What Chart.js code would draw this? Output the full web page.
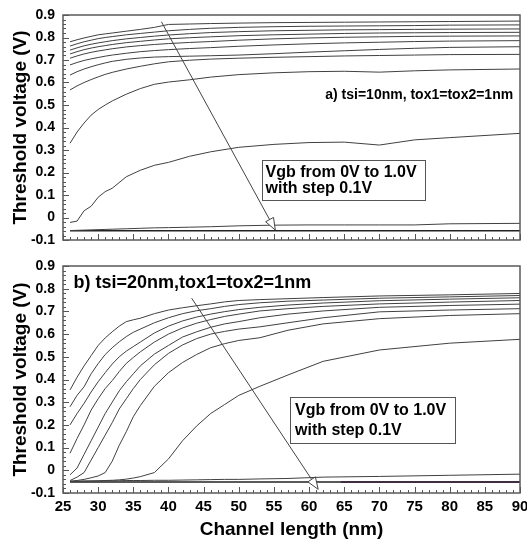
<!DOCTYPE html>
<html lang="en">
<head>
<meta charset="UTF-8">
<title>Threshold voltage vs channel length</title>
<script src="https://cdn.jsdelivr.net/npm/chart.js"></script>
<style>
    body { margin: 0; background: #fff; }
    .panel { position: absolute; left: 0; width: 527px; }
    #wrapA { top: 0; height: 250px; }
    #wrapB { top: 250px; height: 294px; }
</style>
</head>
<body>
<div class="panel" id="wrapA"><canvas id="chartA"></canvas></div>
<div class="panel" id="wrapB"><canvas id="chartB"></canvas></div>
<script>
// ---- panel a) tsi=10nm : channel length (nm) and Vt (V) per Vgb curve
const xA = [26,27,28,29,30,31,32,34,36,38,40,43,46,50,55,60,65,70,75,80,90];
const a1 = [0.781,0.790,0.798,0.805,0.812,0.816,0.820,0.828,0.836,0.845,0.858,0.860,0.862,0.864,0.866,0.867,0.868,0.869,0.870,0.871,0.873];
const a2 = [0.762,0.772,0.781,0.788,0.795,0.800,0.804,0.812,0.818,0.824,0.830,0.836,0.841,0.845,0.848,0.850,0.851,0.852,0.853,0.855,0.856];
const a3 = [0.744,0.754,0.763,0.770,0.776,0.781,0.786,0.794,0.800,0.806,0.811,0.817,0.822,0.826,0.830,0.832,0.834,0.835,0.836,0.837,0.838];
const a4 = [0.727,0.737,0.746,0.753,0.759,0.764,0.769,0.777,0.783,0.789,0.794,0.799,0.803,0.808,0.812,0.815,0.818,0.820,0.821,0.822,0.823];
const a5 = [0.708,0.718,0.727,0.734,0.740,0.745,0.750,0.758,0.764,0.769,0.773,0.778,0.782,0.788,0.794,0.798,0.801,0.803,0.805,0.806,0.807];
const a6 = [0.678,0.689,0.698,0.705,0.711,0.717,0.722,0.730,0.737,0.742,0.746,0.751,0.755,0.761,0.767,0.772,0.776,0.779,0.782,0.784,0.786];
const a7 = [0.633,0.648,0.660,0.670,0.679,0.687,0.694,0.703,0.709,0.713,0.715,0.717,0.719,0.722,0.728,0.735,0.741,0.747,0.752,0.756,0.759];
const a8 = [0.567,0.585,0.600,0.613,0.625,0.636,0.645,0.660,0.672,0.683,0.692,0.699,0.704,0.708,0.712,0.715,0.718,0.720,0.722,0.724,0.725];
const a9 = [0.330,0.380,0.420,0.455,0.480,0.500,0.518,0.548,0.573,0.592,0.602,0.612,0.624,0.635,0.643,0.648,0.650,0.646,0.652,0.656,0.660];
const a10 = [-0.022,-0.016,0.030,0.050,0.090,0.115,0.130,0.181,0.210,0.232,0.245,0.272,0.292,0.312,0.325,0.333,0.335,0.322,0.345,0.355,0.374];
const a11 = [-0.058,-0.057,-0.056,-0.055,-0.054,-0.053,-0.052,-0.050,-0.048,-0.046,-0.045,-0.043,-0.041,-0.037,-0.034,-0.033,-0.033,-0.033,-0.033,-0.028,-0.026];
const a12 = [-0.059,-0.059,-0.059,-0.059,-0.059,-0.059,-0.059,-0.059,-0.059,-0.059,-0.059,-0.059,-0.059,-0.059,-0.059,-0.059,-0.059,-0.059,-0.059,-0.059,-0.059];

// ---- panel b) tsi=20nm
const xB = [26,27,28,29,30,31,32,33,34,35,36,38,40,42,44,46,48,50,53,57,62,70,80,90];
const b1 = [0.354,0.410,0.460,0.505,0.550,0.583,0.610,0.635,0.655,0.663,0.670,0.690,0.706,0.716,0.725,0.733,0.742,0.748,0.752,0.756,0.761,0.768,0.773,0.779];
const b2 = [0.280,0.330,0.368,0.425,0.470,0.510,0.540,0.566,0.589,0.608,0.622,0.650,0.672,0.690,0.703,0.712,0.722,0.730,0.738,0.745,0.750,0.758,0.764,0.770];
const b3 = [0.200,0.250,0.295,0.345,0.390,0.430,0.468,0.500,0.525,0.545,0.565,0.605,0.635,0.658,0.675,0.688,0.699,0.708,0.718,0.728,0.737,0.747,0.754,0.760];
const b4 = [0.075,0.140,0.200,0.265,0.315,0.360,0.395,0.435,0.471,0.497,0.522,0.565,0.600,0.627,0.648,0.664,0.678,0.688,0.702,0.712,0.722,0.733,0.741,0.748];
const b5 = [-0.020,0.010,0.070,0.130,0.190,0.250,0.300,0.350,0.390,0.425,0.460,0.512,0.550,0.587,0.610,0.630,0.645,0.655,0.672,0.688,0.702,0.718,0.726,0.732];
const b6 = [-0.045,-0.030,-0.010,0.045,0.100,0.155,0.210,0.270,0.315,0.360,0.400,0.465,0.515,0.552,0.580,0.600,0.612,0.622,0.632,0.650,0.672,0.698,0.706,0.712];
const b7 = [-0.048,-0.045,-0.040,-0.033,-0.025,-0.010,0.040,0.110,0.170,0.236,0.285,0.370,0.430,0.475,0.510,0.540,0.558,0.572,0.584,0.617,0.645,0.668,0.682,0.690];
const b8 = [-0.050,-0.049,-0.048,-0.047,-0.046,-0.045,-0.044,-0.042,-0.039,-0.034,-0.028,-0.010,0.050,0.130,0.195,0.250,0.290,0.330,0.370,0.420,0.480,0.530,0.560,0.577];
const b9 = [-0.048,-0.048,-0.047,-0.047,-0.047,-0.046,-0.046,-0.046,-0.045,-0.045,-0.045,-0.044,-0.044,-0.043,-0.042,-0.041,-0.040,-0.040,-0.038,-0.036,-0.030,-0.027,-0.022,-0.017];
const b10 = [-0.052,-0.052,-0.052,-0.052,-0.052,-0.052,-0.052,-0.052,-0.052,-0.052,-0.052,-0.052,-0.052,-0.052,-0.052,-0.052,-0.052,-0.052,-0.052,-0.052,-0.052,-0.052,-0.052,-0.052];
const xPurple = [64.5, 90];
const bPurple = [-0.052, -0.052];

const FONT = "Arial, 'Liberation Sans', sans-serif";

function pts(xs, ys) {
    return xs.map((x, i) => ({ x: x, y: ys[i] }));
}
function lineSet(xs, ys, color, width) {
    return {
        data: pts(xs, ys),
        borderColor: color || '#404040',
        borderWidth: width || 1,
        pointRadius: 0,
        fill: false,
        tension: 0
    };
}

// frame, inner minor/major ticks, arrow, text box and panel label
const decor = {
    id: 'decor',
    afterDatasetsDraw(chart, args, o) {
        const { ctx, chartArea: a, scales: { x, y } } = chart;
        ctx.save();
        ctx.strokeStyle = '#555';
        ctx.lineWidth = 1;
        ctx.beginPath();
        for (let v = 25; v <= 90; v++) {
            const px = Math.round(x.getPixelForValue(v)) + 0.5;
            const len = v % 5 === 0 ? 6 : 3;
            ctx.moveTo(px, a.bottom);
            ctx.lineTo(px, a.bottom - len);
        }
        for (let k = 0; k <= 50; k++) {
            const py = Math.round(y.getPixelForValue(-0.1 + k * 0.02)) + 0.5;
            const len = k % 5 === 0 ? 6 : 3;
            ctx.moveTo(a.left, py);
            ctx.lineTo(a.left + len, py);
        }
        ctx.stroke();
        ctx.lineWidth = 1.5;
        ctx.strokeStyle = '#5a5a5a';
        ctx.strokeRect(a.left, a.top, a.right - a.left, a.bottom - a.top);

        // arrow
        const x0 = x.getPixelForValue(o.arrow[0]), y0 = y.getPixelForValue(o.arrow[1]);
        const x1 = x.getPixelForValue(o.arrow[2]), y1 = y.getPixelForValue(o.arrow[3]);
        const ang = Math.atan2(y1 - y0, x1 - x0);
        const hl = 12, hw = 4.5;
        const bx = x1 - hl * Math.cos(ang), by = y1 - hl * Math.sin(ang);
        ctx.lineWidth = 1;
        ctx.strokeStyle = '#444';
        ctx.beginPath();
        ctx.moveTo(x0, y0);
        ctx.lineTo(bx, by);
        ctx.stroke();
        ctx.beginPath();
        ctx.moveTo(x1, y1);
        ctx.lineTo(bx + hw * Math.sin(ang), by - hw * Math.cos(ang));
        ctx.lineTo(bx - hw * Math.sin(ang), by + hw * Math.cos(ang));
        ctx.closePath();
        ctx.fillStyle = '#fff';
        ctx.fill();
        ctx.stroke();

        // text box
        const l = x.getPixelForValue(o.box[0]), r = x.getPixelForValue(o.box[1]);
        const t = y.getPixelForValue(o.box[2]), b = y.getPixelForValue(o.box[3]);
        ctx.fillStyle = '#fff';
        ctx.fillRect(l, t, r - l, b - t);
        ctx.strokeStyle = '#555';
        ctx.strokeRect(Math.round(l) + 0.5, Math.round(t) + 0.5, Math.round(r - l), Math.round(b - t));
        ctx.fillStyle = '#000';
        ctx.font = 'bold 16px ' + FONT;
        ctx.textBaseline = 'middle';
        ctx.textAlign = 'left';
        o.boxText.forEach((s, i) => {
            ctx.fillText(s, x.getPixelForValue(o.boxTextAt[0]), y.getPixelForValue(o.boxTextAt[i + 1]));
        });

        // panel label
        ctx.font = 'bold ' + o.labelSize + 'px ' + FONT;
        ctx.fillText(o.label, x.getPixelForValue(o.labelAt[0]), y.getPixelForValue(o.labelAt[1]));
        ctx.restore();
    }
};

function yScale() {
    return {
        type: 'linear',
        min: -0.1,
        max: 0.9,
        ticks: {
            stepSize: 0.1,
            padding: 8,
            color: '#000',
            font: { family: FONT, size: 14, weight: 'bold' },
            callback: v => Math.abs(v) < 1e-9 ? '0' : (Math.round(v * 10) / 10).toString()
        },
        grid: { display: false, drawTicks: false },
        border: { display: false },
        title: {
            display: true,
            text: 'Threshold voltage (V)',
            color: '#000',
            font: { family: FONT, size: 19, weight: 'bold' },
            padding: { top: 9, bottom: 0 }
        },
        afterFit(s) { s.width = 63; s.paddingTop = 0; s.paddingBottom = 0; }
    };
}

const commonPlugins = { legend: { display: false }, tooltip: { enabled: false } };

new Chart(document.getElementById('chartA'), {
    type: 'line',
    data: {
        datasets: [a1, a2, a3, a4, a5, a6, a7, a8, a9, a10, a11].map(s => lineSet(xA, s))
            .concat([lineSet(xA, a12, '#222', 1.5)])
    },
    options: {
        responsive: true,
        maintainAspectRatio: false,
        animation: false,
        layout: { padding: { top: 15, right: 7, bottom: 10, left: 0 } },
        scales: {
            x: {
                type: 'linear', min: 25, max: 90,
                ticks: { display: false, stepSize: 5 },
                grid: { display: false, drawTicks: false },
                border: { display: false },
                afterFit(s) { s.height = 0; s.paddingLeft = 0; s.paddingRight = 0; }
            },
            y: yScale()
        },
        plugins: Object.assign({}, commonPlugins, {
            decor: {
                arrow: [39.0, 0.870, 55.2, -0.056],
                box: [53.3, 76.5, 0.256, 0.078],
                boxText: ['Vgb from 0V to 1.0V', 'with step 0.1V'],
                boxTextAt: [53.8, 0.200, 0.127],
                label: 'a) tsi=10nm, tox1=tox2=1nm',
                labelSize: 14,
                labelAt: [62.3, 0.544]
            }
        })
    },
    plugins: [decor]
});

new Chart(document.getElementById('chartB'), {
    type: 'line',
    data: {
        datasets: [b1, b2, b3, b4, b5, b6, b7, b8, b9].map(s => lineSet(xB, s))
            .concat([lineSet(xB, b10, '#222', 1.5), lineSet(xPurple, bPurple, '#7d1f7d', 1.5)])
    },
    options: {
        responsive: true,
        maintainAspectRatio: false,
        animation: false,
        layout: { padding: { top: 16, right: 7, bottom: 0, left: 0 } },
        scales: {
            x: {
                type: 'linear', min: 25, max: 90,
                ticks: {
                    stepSize: 5, padding: 5, maxRotation: 0, autoSkip: false,
                    color: '#000',
                    font: { family: FONT, size: 15, weight: 'bold' }
                },
                grid: { display: false, drawTicks: false },
                border: { display: false },
                title: {
                    display: true,
                    text: 'Channel length (nm)',
                    color: '#000',
                    font: { family: FONT, size: 19, weight: 'bold' },
                    padding: { top: 0, bottom: 3 }
                },
                afterFit(s) { s.height = 51; s.paddingLeft = 0; s.paddingRight = 0; }
            },
            y: yScale()
        },
        plugins: Object.assign({}, commonPlugins, {
            decor: {
                arrow: [43.3, 0.758, 61.3, -0.084],
                box: [57.3, 80.8, 0.323, 0.120],
                boxText: ['Vgb from 0V to 1.0V', 'with step 0.1V'],
                boxTextAt: [58.0, 0.263, 0.175],
                label: 'b) tsi=20nm,tox1=tox2=1nm',
                labelSize: 18,
                labelAt: [26.5, 0.825]
            }
        })
    },
    plugins: [decor]
});
</script>
</body>
</html>
